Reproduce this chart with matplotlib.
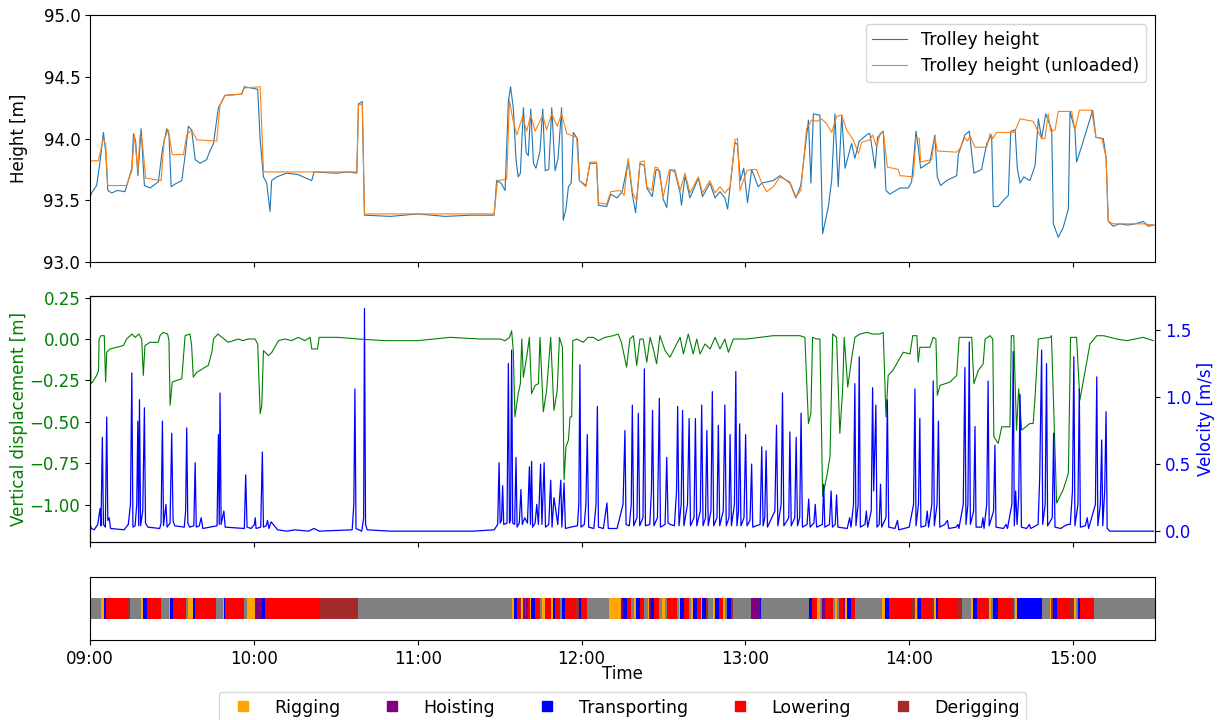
import matplotlib.pyplot as plt
from matplotlib.lines import Line2D
import numpy as np

plt.rcParams["font.size"] = 12

# trolley height, minutes after 09:00
loaded_t = [0.0, 0.6, 2.4, 3.7, 4.9, 5.7, 6.5, 7.9, 10.0, 12.8, 14.0, 15.3, 15.9, 16.7, 17.5, 18.7,
            19.9, 22.0, 25.0, 26.5, 28.1, 28.9, 29.7, 31.0, 33.6, 34.8, 36.0, 37.2, 38.5, 40.3, 42.7,
            43.9, 45.2, 47.0, 49.4, 55.5, 56.5, 61.4, 62.3, 63.5, 64.7, 65.9, 66.5, 68.4, 72.0, 76.0,
            81.2, 82.0, 90.0, 95.0, 97.7, 98.3, 99.7, 100.5, 110.0, 120.0, 130.0, 140.0, 148.0, 148.9,
            150.5, 152.0, 153.2, 154.0, 155.0, 156.0, 156.8, 157.6, 158.7, 159.7, 160.5, 161.4, 162.4,
            163.3, 164.8, 165.8, 166.7, 168.0, 169.1, 170.3, 171.4, 172.7, 173.3, 174.3, 175.2, 176.2,
            177.0, 178.5, 179.2, 181.6, 183.1, 185.5, 186.2, 189.2, 190.7, 193.0, 194.9, 197.1, 198.6,
            199.8, 201.4, 203.0, 203.9, 205.9, 207.3, 208.6, 209.9, 211.2, 212.5, 214.2, 216.1, 216.6,
            217.9, 219.7, 222.8, 224.3, 226.1, 227.0, 228.9, 230.7, 232.5, 233.5, 236.2, 237.1, 238.2,
            239.4, 240.8, 242.3, 244.7, 246.0, 250.2, 252.7, 256.3, 258.5, 260.3, 263.1, 264.0, 264.9,
            267.3, 268.3, 270.4, 271.6, 272.8, 274.0, 275.3, 276.5, 277.7, 278.9, 280.1, 281.7, 285.0,
            285.6, 287.5, 288.4, 290.5, 291.5, 292.9, 296.6, 299.7, 300.9, 302.5, 303.3, 304.2, 307.6,
            309.4, 310.3, 311.5, 313.7, 317.4, 318.0, 320.4, 322.0, 323.7, 326.5, 328.4, 330.2, 330.8,
            332.6, 334.5, 336.3, 337.2, 338.8, 339.6, 340.6, 342.0, 344.2, 346.1, 347.3, 348.5, 350.0,
            352.2, 352.8, 354.6, 356.4, 358.3, 358.9, 360.7, 361.3, 363.2, 365.0, 367.2, 368.4, 371.1,
            372.1, 372.9, 374.7, 377.0, 380.0, 383.0, 385.7, 387.5, 389.6]
loaded_h = [93.53, 93.56, 93.62, 93.82, 94.05, 93.90, 93.58, 93.56, 93.58, 93.57, 93.66, 93.76, 94.04,
            93.98, 93.70, 94.08, 93.62, 93.60, 93.65, 93.91, 94.08, 94.03, 93.61, 93.63, 93.66, 93.86,
            94.10, 94.07, 93.83, 93.80, 93.83, 93.90, 93.96, 94.25, 94.35, 94.36, 94.42, 94.40, 93.99,
            93.69, 93.64, 93.41, 93.66, 93.69, 93.72, 93.71, 93.66, 93.73, 93.72, 93.73, 93.72, 94.28,
            94.30, 93.38, 93.37, 93.39, 93.37, 93.38, 93.38, 93.66, 93.64, 93.58, 94.30, 94.42, 94.25,
            93.83, 93.69, 93.72, 94.25, 93.89, 93.86, 94.24, 93.80, 93.76, 93.90, 94.24, 93.74, 93.75,
            94.25, 93.74, 93.84, 94.25, 93.34, 93.43, 93.61, 93.64, 94.05, 94.00, 93.66, 93.62, 93.80,
            93.80, 93.46, 93.45, 93.55, 93.52, 93.57, 93.82, 93.55, 93.40, 93.80, 93.78, 93.60, 93.53,
            93.75, 93.74, 93.51, 93.44, 93.75, 93.73, 93.56, 93.46, 93.70, 93.52, 93.68, 93.53, 93.60,
            93.64, 93.52, 93.57, 93.52, 93.43, 93.97, 93.95, 93.66, 93.76, 93.48, 93.75, 93.61, 93.64,
            93.66, 93.70, 93.64, 93.52, 93.62, 94.15, 93.64, 94.20, 94.19, 93.23, 93.45, 93.66, 94.20,
            93.61, 94.19, 93.76, 93.86, 93.96, 93.84, 93.98, 94.04, 94.04, 93.76, 94.01, 94.06, 93.58,
            93.55, 93.60, 93.60, 93.65, 94.06, 93.93, 93.76, 93.81, 94.03, 93.69, 93.62, 93.66, 93.70,
            93.87, 94.03, 94.06, 93.72, 93.75, 93.96, 94.03, 93.45, 93.45, 93.50, 93.54, 94.06, 94.07,
            93.76, 93.64, 93.69, 93.66, 93.78, 94.16, 94.00, 94.20, 94.07, 93.31, 93.20, 93.28, 93.43,
            94.22, 94.07, 93.81, 93.94, 94.07, 94.23, 94.01, 94.00, 93.85, 93.33, 93.29, 93.31, 93.30,
            93.31, 93.33, 93.29, 93.30]

unloaded_t = [0.0, 3.0, 4.9, 5.7, 6.5, 13.4, 15.3, 16.2, 17.5, 18.3, 19.0, 20.4, 26.0, 27.2, 28.7, 30.1,
              34.2, 35.4, 37.2, 39.1, 46.4, 47.6, 49.4, 55.5, 56.5, 62.3, 63.5, 64.1, 97.7, 98.3, 99.7,
              100.5, 148.0, 149.2, 152.6, 153.6, 154.8, 156.3, 158.4, 159.9, 161.4, 163.0, 165.8, 167.2,
              169.1, 171.1, 172.7, 174.6, 178.2, 179.2, 181.6, 183.1, 185.5, 186.2, 189.2, 190.7, 194.1,
              195.6, 197.1, 198.7, 200.2, 201.4, 202.9, 203.9, 205.7, 206.9, 208.1, 209.9, 212.1, 214.2,
              216.1, 217.9, 219.7, 222.8, 224.3, 227.0, 228.9, 230.7, 232.5, 234.4, 236.2, 237.1, 238.0,
              240.5, 242.3, 244.1, 246.0, 247.8, 250.2, 252.7, 256.3, 258.5, 260.3, 262.4, 264.3, 266.1,
              267.9, 269.8, 271.6, 273.4, 275.3, 277.1, 279.5, 281.4, 282.6, 285.6, 286.6, 288.1, 289.3,
              290.5, 292.0, 296.0, 296.6, 301.5, 302.5, 303.7, 304.2, 308.2, 309.4, 310.3, 317.4, 318.6,
              320.4, 321.3, 322.3, 324.1, 328.4, 329.6, 330.6, 332.0, 338.1, 339.1, 340.6, 345.4, 348.5,
              349.7, 350.9, 351.8, 353.4, 354.6, 359.5, 360.7, 362.3, 366.8, 368.4, 370.5, 372.1, 372.9,
              374.7, 385.7, 389.6]
unloaded_h = [93.82, 93.82, 94.00, 93.95, 93.62, 93.62, 93.74, 94.03, 93.74, 94.03, 94.00, 93.68, 93.66,
              94.00, 94.07, 93.87, 93.87, 94.03, 94.07, 93.99, 93.98, 94.27, 94.35, 94.36, 94.41, 94.42,
              93.74, 93.73, 93.73, 94.27, 94.28, 93.39, 93.39, 93.66, 93.67, 94.31, 94.16, 94.03, 94.18,
              94.06, 94.19, 94.06, 94.19, 94.07, 94.20, 94.10, 94.20, 94.04, 94.01, 93.66, 93.61, 93.81,
              93.81, 93.48, 93.47, 93.57, 93.58, 93.54, 93.84, 93.56, 93.50, 93.81, 93.82, 93.61, 93.58,
              93.77, 93.76, 93.53, 93.74, 93.75, 93.58, 93.72, 93.56, 93.69, 93.56, 93.66, 93.56, 93.61,
              93.56, 93.61, 93.99, 94.00, 93.58, 93.74, 93.75, 93.75, 93.64, 93.57, 93.61, 93.69, 93.65,
              93.53, 93.58, 94.08, 94.15, 94.14, 94.16, 94.12, 94.05, 94.18, 94.19, 94.07, 93.99, 93.88,
              93.97, 93.99, 94.03, 93.93, 94.04, 94.06, 93.77, 93.75, 93.70, 93.69, 94.01, 94.00, 93.81,
              93.83, 94.01, 93.90, 93.89, 93.92, 94.01, 93.98, 94.02, 93.93, 93.93, 94.04, 94.00, 94.05,
              94.05, 94.08, 94.16, 94.14, 94.00, 94.00, 94.20, 94.06, 94.07, 94.22, 94.22, 94.07, 94.23,
              94.23, 94.01, 94.00, 93.85, 93.33, 93.31, 93.31, 93.30]

# vertical displacement of the load
disp_t = [0.0, 0.3, 0.9, 2.4, 3.1, 3.3, 4.0, 5.2, 5.7, 6.1, 7.3, 12.2, 13.4, 15.3, 16.5, 17.9, 18.9,
          19.5, 20.1, 22.0, 25.0, 25.6, 26.8, 28.4, 28.9, 29.3, 30.1, 31.7, 33.6, 34.2, 34.8, 36.6,
          37.2, 37.8, 39.1, 40.3, 42.1, 43.3, 44.6, 45.2, 46.8, 48.3, 50.6, 52.5, 54.3, 56.0, 57.8,
          60.4, 61.4, 62.3, 62.9, 63.5, 64.7, 65.3, 66.6, 69.0, 71.4, 73.8, 76.3, 78.7, 80.6, 81.2,
          83.3, 83.9, 90.8, 98.3, 108.0, 120.0, 132.0, 142.8, 150.1, 152.0, 153.6, 154.4, 155.0,
          155.6, 156.8, 157.6, 158.1, 158.7, 159.9, 160.9, 161.7, 163.0, 164.2, 164.8, 166.0, 167.2,
          168.7, 169.9, 171.1, 171.9, 173.0, 173.6, 174.3, 175.2, 175.8, 176.4, 176.8, 178.3, 180.6,
          182.4, 184.3, 186.1, 188.6, 191.6, 193.4, 194.6, 196.5, 197.7, 199.0, 200.2, 201.4, 202.6,
          203.9, 205.1, 206.3, 207.5, 208.7, 210.6, 212.4, 214.2, 216.1, 217.3, 219.1, 220.9, 222.2,
          223.4, 225.2, 227.1, 228.9, 230.7, 232.5, 233.8, 235.6, 240.5, 245.4, 250.2, 255.1, 260.0,
          261.8, 263.1, 264.0, 264.6, 266.1, 267.3, 268.3, 269.8, 271.0, 272.0, 273.4, 274.6, 275.6,
          276.2, 277.5, 278.9, 280.1, 282.0, 284.4, 286.6, 289.3, 290.5, 291.5, 292.3, 294.0, 297.8,
          300.3, 301.3, 302.8, 303.3, 303.9, 307.6, 308.8, 309.8, 310.3, 311.3, 314.9, 317.4, 318.3,
          322.9, 323.7, 325.3, 327.1, 327.8, 329.6, 330.6, 331.0, 332.6, 333.9, 336.9, 337.4, 338.3,
          339.3, 340.1, 341.2, 344.2, 345.4, 346.1, 347.3, 351.6, 352.1, 354.0, 356.4, 358.3, 359.1,
          361.3, 362.5, 365.0, 366.2, 368.7, 371.2, 376.0, 379.7, 385.7, 389.4]
disp_m = [0.19, -0.27, -0.26, -0.22, -0.19, 0.00, 0.02, 0.02, -0.26, -0.08, -0.06, -0.04, 0.00, 0.03,
          0.01, 0.03, 0.00, -0.22, -0.04, -0.02, -0.02, 0.02, 0.04, 0.03, -0.01, -0.40, -0.26, -0.25,
          -0.24, -0.11, 0.02, 0.03, -0.04, -0.23, -0.20, -0.19, -0.17, -0.16, -0.08, 0.00, 0.03, 0.01,
          -0.02, -0.01, 0.00, -0.01, 0.00, 0.00, -0.03, -0.45, -0.40, -0.07, -0.09, -0.10, -0.08, -0.01,
          0.00, -0.01, 0.01, -0.01, 0.01, -0.06, -0.06, 0.01, 0.01, 0.00, -0.01, -0.01, 0.01, 0.00,
          0.00, -0.01, 0.01, 0.05, -0.07, -0.47, -0.33, -0.27, 0.00, -0.23, -0.11, 0.01, -0.33, -0.28,
          -0.27, 0.01, -0.44, -0.31, 0.01, -0.43, -0.31, 0.01, -0.05, -0.85, -0.65, -0.61, -0.47, -0.47,
          -0.01, 0.00, -0.02, 0.01, 0.01, -0.01, 0.01, 0.02, 0.03, -0.02, -0.17, 0.00, 0.02, -0.16, 0.00,
          0.00, -0.14, 0.01, -0.06, -0.15, 0.02, -0.07, -0.11, -0.05, 0.01, -0.09, 0.03, -0.09, 0.00,
          -0.09, -0.03, -0.06, 0.01, -0.06, 0.00, -0.08, 0.00, 0.00, 0.01, 0.02, 0.02, 0.02, 0.01, -0.51,
          -0.45, 0.01, 0.00, 0.00, -0.95, -0.83, -0.71, 0.03, 0.01, -0.57, -0.31, 0.01, -0.29, -0.12,
          0.01, 0.03, 0.04, 0.03, 0.03, 0.04, -0.47, -0.22, -0.19, -0.08, -0.09, 0.02, 0.02, -0.14,
          -0.05, -0.05, 0.01, 0.00, -0.34, -0.28, -0.26, -0.22, 0.01, 0.01, -0.27, -0.19, -0.15, 0.00,
          0.02, 0.00, -0.59, -0.63, -0.53, -0.53, 0.02, 0.02, -0.55, -0.30, -0.55, -0.51, -0.51, -0.35,
          0.00, 0.01, 0.02, -0.99, -0.91, -0.81, 0.01, 0.01, -0.37, -0.14, -0.03, 0.02, 0.02, 0.00,
          -0.01, 0.01, -0.01]

# trolley velocity
vel_t = [0.0, 0.5, 1.5, 2.8, 3.7, 4.0, 4.5, 4.9, 5.6, 6.1, 6.5, 7.0, 7.5, 12.5, 14.0, 14.8, 15.3, 15.7,
         16.5, 17.1, 17.5, 17.8, 18.1, 18.5, 19.3, 19.9, 20.3, 21.2, 25.5, 26.0, 26.5, 26.9, 27.8, 28.2,
         29.3, 29.9, 30.4, 31.0, 34.5, 35.0, 35.4, 35.8, 36.5, 38.0, 38.5, 38.9, 40.0, 40.7, 41.3, 46.5,
         47.0, 47.3, 47.6, 48.0, 49.0, 49.5, 56.5, 57.0, 57.5, 59.0, 60.2, 60.5, 60.8, 62.5, 63.1, 63.5,
         64.5, 65.0, 65.5, 66.3, 68.7, 72.0, 75.0, 80.0, 82.0, 84.0, 96.0, 96.6, 97.0, 97.4, 99.5, 100.2,
         100.5, 100.9, 101.5, 110.0, 125.0, 140.0, 148.0, 149.3, 149.8, 150.2, 150.7, 151.1, 151.5,
         152.7, 153.2, 153.6, 154.0, 154.4, 154.8, 155.5, 156.0, 156.4, 157.2, 157.8, 158.3, 159.2,
         160.2, 160.9, 161.3, 161.7, 162.1, 163.0, 163.6, 164.2, 165.0, 165.5, 166.3, 166.8, 168.0,
         168.7, 169.2, 169.9, 170.6, 171.3, 172.4, 172.8, 173.6, 174.1, 176.0, 178.5, 179.0, 179.4,
         179.8, 181.0, 181.6, 182.1, 182.6, 184.5, 185.3, 185.8, 186.2, 188.0, 189.3, 189.8, 193.0,
         195.2, 195.9, 196.3, 197.5, 198.2, 198.6, 199.1, 200.3, 200.8, 201.3, 202.5, 203.0, 203.4,
         205.0, 205.6, 206.0, 206.5, 207.8, 208.5, 208.9, 210.6, 211.2, 211.7, 212.5, 214.0, 214.8,
         215.2, 215.7, 216.5, 217.0, 217.5, 218.8, 219.4, 219.9, 221.2, 221.7, 222.2, 223.5, 224.0,
         224.5, 225.4, 225.9, 226.4, 227.4, 227.9, 228.4, 229.6, 230.1, 230.6, 231.9, 232.5, 233.0,
         234.0, 234.4, 234.9, 236.0, 236.5, 236.9, 237.5, 237.9, 238.4, 239.5, 240.1, 240.6, 241.7,
         242.3, 242.7, 245.4, 246.0, 246.5, 247.1, 247.6, 248.1, 250.8, 251.4, 251.9, 253.1, 253.6,
         254.1, 255.9, 256.3, 256.8, 258.1, 258.6, 259.1, 259.9, 260.4, 260.9, 262.6, 263.2, 263.7,
         265.1, 265.6, 266.1, 268.2, 268.7, 269.1, 270.8, 271.4, 271.9, 272.9, 273.4, 273.9, 277.3,
         278.2, 278.7, 279.6, 280.1, 280.5, 281.3, 281.7, 282.1, 283.8, 284.3, 284.8, 286.1, 286.6,
         287.0, 287.8, 288.2, 289.0, 289.5, 289.9, 291.5, 292.0, 292.5, 294.8, 295.7, 296.2, 300.0,
         301.6, 302.1, 302.5, 303.4, 303.9, 304.3, 306.0, 306.6, 307.1, 308.3, 308.8, 309.2, 310.2,
         310.7, 311.2, 313.0, 314.0, 314.5, 317.2, 317.8, 318.2, 319.8, 320.4, 320.8, 321.5, 322.0,
         322.4, 323.6, 324.1, 324.5, 326.5, 327.0, 327.4, 328.4, 328.9, 329.3, 330.9, 331.4, 331.8,
         334.5, 335.5, 336.0, 337.6, 338.1, 338.5, 339.0, 339.5, 340.1, 340.6, 341.1, 343.0, 344.0,
         344.5, 347.2, 347.8, 348.5, 348.9, 349.8, 350.3, 350.7, 352.4, 352.9, 353.4, 355.5, 357.0,
         358.0, 359.0, 359.8, 360.3, 360.7, 361.8, 362.3, 362.7, 364.5, 365.2, 365.7, 368.2, 368.7,
         369.1, 370.0, 370.5, 370.9, 371.6, 372.1, 372.5, 373.5, 380.0, 385.0, 389.5]
vel_ms = [0.05, 0.02, 0.01, 0.05, 0.17, 0.04, 0.70, 0.05, 0.03, 0.85, 0.08, 0.10, 0.02, 0.01, 0.05,
          0.20, 1.18, 0.03, 0.04, 0.20, 0.82, 0.04, 0.98, 0.04, 0.15, 0.92, 0.06, 0.03, 0.02, 0.06, 0.82,
          0.04, 0.20, 0.03, 0.06, 0.73, 0.08, 0.04, 0.03, 0.15, 0.77, 0.06, 0.03, 0.04, 0.51, 0.03, 0.04,
          0.10, 0.02, 0.04, 0.72, 0.05, 1.03, 0.05, 0.15, 0.03, 0.02, 0.42, 0.03, 0.02, 0.05, 0.10, 0.02,
          0.03, 0.59, 0.03, 0.04, 0.08, 0.02, 0.07, 0.01, 0.00, 0.01, 0.00, 0.02, 0.00, 0.01, 0.20, 1.06,
          0.02, 0.00, 0.10, 1.66, 0.05, 0.01, 0.00, 0.00, 0.00, 0.01, 0.05, 0.51, 0.06, 0.08, 0.34, 0.05,
          0.06, 1.25, 0.06, 0.08, 1.35, 0.06, 0.05, 0.55, 0.03, 0.06, 0.31, 0.05, 0.10, 0.06, 0.48, 0.05,
          0.52, 0.03, 0.06, 0.20, 0.05, 0.50, 0.05, 0.51, 0.03, 0.05, 0.38, 0.03, 0.25, 0.15, 0.05, 0.38,
          0.03, 0.36, 0.02, 0.03, 0.04, 0.20, 1.24, 0.03, 0.05, 0.20, 0.72, 0.03, 0.02, 0.20, 0.93, 0.03,
          0.02, 0.21, 0.02, 0.02, 0.20, 0.75, 0.05, 0.04, 0.20, 0.94, 0.04, 0.10, 0.88, 0.04, 0.10, 1.21,
          0.04, 0.05, 0.30, 0.90, 0.04, 0.10, 0.99, 0.03, 0.05, 0.55, 0.06, 0.05, 0.04, 0.30, 0.93, 0.04,
          0.20, 0.90, 0.04, 0.20, 0.84, 0.04, 0.10, 0.84, 0.04, 0.15, 0.94, 0.04, 0.10, 0.75, 0.04, 0.15,
          1.04, 0.04, 0.10, 0.79, 0.04, 0.15, 0.94, 0.04, 0.10, 0.72, 0.04, 0.20, 1.19, 0.04, 0.15, 0.80,
          0.04, 0.10, 0.72, 0.04, 0.08, 0.50, 0.03, 0.05, 0.63, 0.04, 0.10, 0.60, 0.03, 0.15, 0.79, 0.04,
          0.20, 1.03, 0.04, 0.10, 0.74, 0.04, 0.10, 0.70, 0.04, 0.10, 0.88, 0.03, 0.05, 0.24, 0.03, 0.06,
          0.20, 0.03, 0.05, 0.35, 0.03, 0.05, 0.30, 0.03, 0.05, 0.27, 0.03, 0.02, 0.10, 0.03, 0.20, 1.10,
          0.04, 0.20, 1.30, 0.03, 0.05, 0.15, 0.03, 0.15, 1.07, 0.30, 0.94, 0.03, 0.05, 0.35, 0.03, 0.10,
          0.98, 0.03, 0.02, 0.08, 0.01, 0.03, 0.20, 1.06, 0.04, 0.20, 0.84, 0.03, 0.04, 0.15, 0.03, 0.20,
          1.12, 0.04, 0.20, 0.82, 0.03, 0.05, 0.08, 0.02, 0.03, 0.05, 0.02, 0.20, 1.22, 0.05, 0.20, 1.41,
          0.05, 0.15, 0.78, 0.03, 0.03, 0.10, 0.02, 0.20, 1.12, 0.04, 0.15, 0.64, 0.03, 0.02, 0.05, 0.02,
          0.20, 1.34, 0.04, 0.30, 0.05, 0.25, 1.02, 0.03, 0.02, 0.05, 0.02, 0.05, 0.40, 1.35, 0.05, 0.20,
          1.25, 0.04, 0.10, 0.73, 0.03, 0.02, 0.04, 0.05, 0.05, 0.30, 1.30, 0.04, 0.20, 1.06, 0.03, 0.04,
          0.10, 0.02, 0.20, 1.15, 0.04, 0.20, 0.68, 0.04, 0.30, 0.89, 0.02, 0.00, 0.00, 0.00, 0.00]

# crane activities (start, end in minutes after 09:00)
seg_start = [4.1, 5.2, 5.9, 13.6, 18.6, 19.3, 21.0, 28.9, 29.4, 30.3, 35.8, 37.7, 38.6, 48.6, 49.1, 49.6,
             57.3, 60.4, 63.0, 64.1, 84.1, 154.5, 155.3, 156.3, 157.5, 157.9, 158.4, 159.2, 159.7,
             160.4, 161.1, 161.6, 163.1, 165.5, 166.5, 168.7, 169.4, 170.2, 172.8, 173.8, 178.0, 179.0,
             179.9, 190.1, 194.5, 195.1, 196.8, 199.2, 199.8, 201.4, 204.3, 204.8, 205.5, 206.5, 209.5,
             211.4, 215.6, 216.0, 217.5, 220.2, 220.7, 222.2, 223.6, 224.3, 225.6, 228.3, 229.0, 230.2,
             231.7, 233.1, 234.8, 241.9, 245.3, 263.4, 264.4, 266.3, 268.1, 269.3, 272.9, 274.4, 275.9,
             276.6, 277.1, 278.6, 289.9, 291.2, 292.7, 301.0, 302.2, 302.9, 303.4, 304.4, 308.3, 309.1,
             309.8, 310.5, 317.9, 322.7, 323.2, 324.7, 328.4, 329.1, 330.6, 332.5, 337.4, 338.8, 339.6,
             351.5, 352.0, 352.8, 354.2, 358.9, 360.3, 361.8, 362.5]
seg_end = [5.2, 5.9, 13.6, 14.8, 19.3, 21.0, 26.1, 29.4, 30.3, 35.2, 37.7, 38.6, 46.1, 49.1, 49.6, 56.2,
           60.4, 63.0, 64.1, 84.1, 98.2, 155.3, 156.3, 157.5, 157.9, 158.4, 159.2, 159.7, 160.4, 161.1,
           161.6, 163.1, 164.8, 166.5, 168.7, 169.4, 170.2, 172.1, 173.8, 178.0, 179.0, 179.9, 182.1,
           194.5, 195.1, 196.8, 198.0, 199.8, 201.4, 202.9, 204.8, 205.5, 206.5, 208.3, 210.4, 214.8,
           216.0, 217.5, 219.2, 220.7, 222.2, 223.6, 224.3, 225.6, 226.3, 229.0, 230.2, 231.7, 232.4,
           234.8, 235.3, 245.3, 245.7, 264.4, 266.3, 267.3, 269.3, 272.2, 273.6, 275.9, 276.6, 277.1,
           278.6, 280.3, 291.2, 292.7, 301.0, 302.2, 302.9, 303.4, 304.4, 308.3, 309.1, 309.8, 310.5,
           317.9, 319.3, 323.2, 324.7, 328.4, 329.1, 329.8, 332.5, 337.4, 338.4, 339.6, 348.6, 352.0,
           352.8, 354.2, 358.9, 360.3, 361.1, 362.5, 367.6]
seg_activity = ["rig", "trans", "low", "derig", "rig", "trans", "low", "rig", "trans", "low", "rig",
                "trans", "low", "rig", "trans", "low", "rig", "hoist", "trans", "low", "derig", "rig",
                "trans", "low", "derig", "rig", "hoist", "low", "hoist", "low", "rig", "trans", "low",
                "rig", "low", "rig", "trans", "low", "trans", "low", "derig", "trans", "low", "rig",
                "hoist", "trans", "low", "rig", "trans", "low", "rig", "hoist", "trans", "low", "rig",
                "low", "rig", "trans", "low", "rig", "trans", "low", "rig", "trans", "derig", "rig",
                "trans", "low", "rig", "trans", "derig", "hoist", "trans", "trans", "low", "rig",
                "hoist", "low", "rig", "low", "hoist", "rig", "trans", "low", "rig", "trans", "low",
                "derig", "rig", "derig", "trans", "low", "derig", "rig", "trans", "low", "derig", "rig",
                "trans", "low", "derig", "rig", "trans", "low", "derig", "rig", "trans", "rig", "derig",
                "trans", "low", "derig", "rig", "trans", "low"]

activity_names = {"rig": "Rigging", "hoist": "Hoisting", "trans": "Transporting",
                  "low": "Lowering", "derig": "Derigging"}
activity_colors = {"rig": "orange", "hoist": "purple", "trans": "blue",
                   "low": "red", "derig": "brown"}

hour_ticks = [0, 60, 120, 180, 240, 300, 360]
hour_labels = ["09:00", "10:00", "11:00", "12:00", "13:00", "14:00", "15:00"]

fig = plt.figure(figsize=(12.17, 7.2), dpi=100)
ax1 = fig.add_axes([0.074, 0.636, 0.875, 0.343])
ax2 = fig.add_axes([0.074, 0.247, 0.875, 0.342], sharex=ax1)
ax3 = fig.add_axes([0.074, 0.111, 0.875, 0.0875], sharex=ax1)

# heights
ax1.plot(loaded_t, loaded_h, color="C0", lw=0.8, label="Trolley height")
ax1.plot(unloaded_t, unloaded_h, color="C1", lw=0.8, label="Trolley height (unloaded)")
ax1.set_ylim(93.0, 95.0)
ax1.set_yticks([93.0, 93.5, 94.0, 94.5, 95.0])
ax1.set_ylabel("Height [m]")
ax1.legend(loc="upper right", fontsize=12.5)
ax1.tick_params(labelbottom=False)

# displacement + velocity
ax2.plot(disp_t, disp_m, color="green", lw=0.8)
ax2.set_ylim(-1.226, 0.26)
ax2.set_yticks([-1.0, -0.75, -0.5, -0.25, 0.0, 0.25])
ax2.set_ylabel("Vertical displacement [m]", color="green")
ax2.tick_params(axis="y", labelcolor="green")
ax2.tick_params(labelbottom=False)

ax2r = ax2.twinx()
ax2r.plot(vel_t, vel_ms, color="blue", lw=0.9)
ax2r.set_ylim(-0.082, 1.754)
ax2r.set_yticks([0.0, 0.5, 1.0, 1.5])
ax2r.set_ylabel("Velocity [m/s]", color="blue")
ax2r.tick_params(axis="y", labelcolor="blue")

# line the two left labels up
ax1.yaxis.set_label_coords(-0.058, 0.5)
ax2.yaxis.set_label_coords(-0.058, 0.5)

# activity timeline
ax3.broken_barh([(0, 390)], (1, 1), facecolors="gray")
for key in activity_names:
    spans = [(s, e - s) for s, e, a in zip(seg_start, seg_end, seg_activity) if a == key]
    ax3.broken_barh(spans, (1, 1), facecolors=activity_colors[key])
ax3.set_ylim(0, 3)
ax3.set_yticks([])
ax3.set_xlim(0, 390)
ax3.set_xticks(hour_ticks)
ax3.set_xticklabels(hour_labels)
ax3.set_xlabel("Time", labelpad=-2)

handles = [Line2D([], [], marker="s", linestyle="None", color=activity_colors[k], markersize=7)
           for k in activity_names]
ax3.legend(handles, list(activity_names.values()), loc="upper center",
           bbox_to_anchor=(0.5, -0.68), ncol=5, fontsize=12.5)

fig.savefig("out.png", dpi=100)
